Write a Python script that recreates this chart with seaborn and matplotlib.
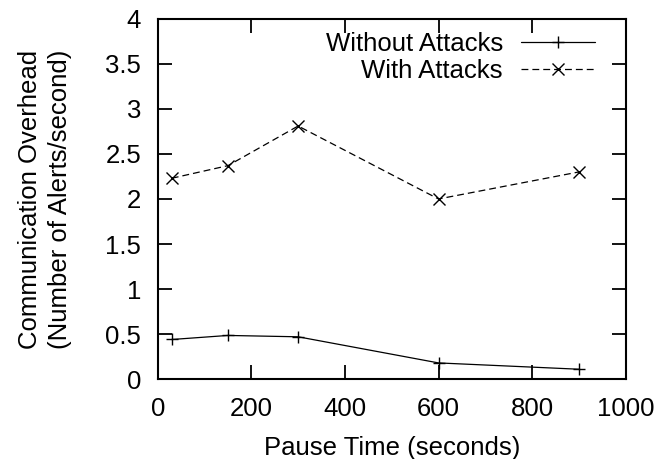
import matplotlib
matplotlib.use("Agg")
import matplotlib.pyplot as plt
from matplotlib.lines import Line2D
import seaborn as sns
import pandas as pd

pause_time = [30, 150, 300, 600, 900]
without_attacks = [0.44, 0.485, 0.47, 0.18, 0.11]
with_attacks = [2.23, 2.37, 2.81, 2.0, 2.3]
x_ticks = [0, 200, 400, 600, 800, 1000]
y_ticks = [0, 0.5, 1, 1.5, 2, 2.5, 3, 3.5, 4]
y_tick_labels = ["0", "0.5", "1", "1.5", "2", "2.5", "3", "3.5", "4"]

sns.set_theme(style="ticks")
plt.rcParams["font.family"] = ["Liberation Sans", "DejaVu Sans"]
plt.rcParams["text.color"] = "black"
plt.rcParams["axes.labelcolor"] = "black"

FS = 18.5
DASH = (5.5, 3.2)

df = pd.DataFrame({
    "Pause Time": pause_time * 2,
    "Overhead": without_attacks + with_attacks,
    "Series": ["Without Attacks"] * len(pause_time) + ["With Attacks"] * len(pause_time),
})

fig = plt.figure(figsize=(6.6, 4.59), dpi=100)
ax = fig.add_axes([0.239, 0.174, 0.709, 0.785])

sns.lineplot(data=df, x="Pause Time", y="Overhead", hue="Series", style="Series",
             palette=["black", "black"], dashes={"Without Attacks": "", "With Attacks": DASH},
             markers={"Without Attacks": "+", "With Attacks": "x"},
             markersize=8.5, markeredgewidth=1.0, markeredgecolor="black",
             linewidth=0.9, ax=ax, legend=False)

ax.set_xlim(0, 1000)
ax.set_ylim(0, 4)
ax.set_xticks(x_ticks)
ax.set_yticks(y_ticks)
ax.set_yticklabels(y_tick_labels)
ax.tick_params(direction="in", length=10, width=1.3, top=True, right=True,
               labelsize=FS, colors="black")
ax.tick_params(axis="x", pad=13)
ax.tick_params(axis="y", pad=12)
for s in ax.spines.values():
    s.set_linewidth(1.5)
    s.set_color("black")
    s.set_visible(True)

ax.set_xlabel("Pause Time (seconds)", fontsize=FS, labelpad=11)
ax.set_ylabel("Communication Overhead\n(Number of Alerts/second)", fontsize=FS,
              labelpad=24, linespacing=1.32)

handles = [Line2D([], [], color="black", lw=0.9, marker="+", markersize=8.5, markeredgewidth=1.0),
           Line2D([], [], color="black", lw=0.9, ls=(0, DASH), marker="x", markersize=8.5, markeredgewidth=1.0)]
ax.legend(handles, ["Without Attacks", "With Attacks"], loc="upper right", frameon=False,
          markerfirst=False, fontsize=FS, handlelength=2.9, handletextpad=0.7,
          labelspacing=0.12, borderaxespad=0.0, borderpad=0.0,
          bbox_to_anchor=(0.935, 0.964))

fig.savefig("out.png", dpi=100)
